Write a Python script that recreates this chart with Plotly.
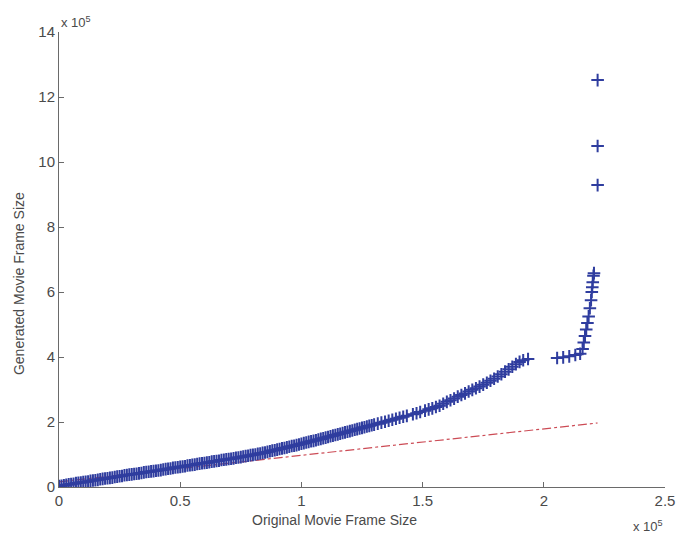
import plotly.graph_objects as go

# Quantile points (units of 1e5)
orig_size = [
    0.00, 0.01, 0.02, 0.03, 0.04, 0.05, 0.06, 0.07, 0.08, 0.09,
    0.10, 0.11, 0.12, 0.13, 0.14, 0.15, 0.16, 0.17, 0.18, 0.19,
    0.20, 0.21, 0.22, 0.23, 0.24, 0.25, 0.26, 0.27, 0.28, 0.29,
    0.30, 0.31, 0.32, 0.33, 0.34, 0.35, 0.36, 0.37, 0.38, 0.39,
    0.40, 0.41, 0.42, 0.43, 0.44, 0.45, 0.46, 0.47, 0.48, 0.49,
    0.50, 0.51, 0.52, 0.53, 0.54, 0.55, 0.56, 0.57, 0.58, 0.59,
    0.60, 0.61, 0.62, 0.63, 0.64, 0.65, 0.66, 0.67, 0.68, 0.69,
    0.70, 0.71, 0.72, 0.73, 0.74, 0.75, 0.76, 0.77, 0.78, 0.79,
    0.80, 0.81, 0.82, 0.83, 0.84, 0.85, 0.86, 0.87, 0.88, 0.89,
    0.90, 0.91, 0.92, 0.93, 0.94, 0.95, 0.96, 0.97, 0.98, 0.99,
    1.00, 1.01, 1.02, 1.03, 1.04, 1.05, 1.06, 1.07, 1.08, 1.09,
    1.10, 1.11, 1.12, 1.13, 1.14, 1.15, 1.16, 1.17, 1.18, 1.19,
    1.20, 1.21, 1.22, 1.23, 1.24, 1.25, 1.26, 1.27, 1.28, 1.29,
    1.30,
    1.315, 1.33, 1.345, 1.36, 1.375, 1.39, 1.405, 1.42, 1.435,
    1.46, 1.475, 1.49,
    1.51, 1.525, 1.54, 1.555, 1.57, 1.585, 1.60, 1.615, 1.63, 1.645,
    1.66, 1.675, 1.69, 1.705, 1.72, 1.735, 1.75, 1.765, 1.78, 1.795,
    1.81, 1.825, 1.84, 1.855, 1.87, 1.885, 1.90, 1.915, 1.935,
    2.055, 2.08, 2.105, 2.13, 2.15,
    2.16, 2.165, 2.17, 2.175, 2.18, 2.185, 2.19, 2.195, 2.198,
    2.20, 2.202, 2.205, 2.207,
    2.222, 2.222, 2.222,
]
gen_size = [
    0.03, 0.04, 0.05, 0.07, 0.08, 0.09, 0.10, 0.12, 0.13, 0.14,
    0.15, 0.16, 0.17, 0.19, 0.20, 0.21, 0.22, 0.24, 0.25, 0.26,
    0.27, 0.28, 0.29, 0.31, 0.32, 0.33, 0.34, 0.36, 0.37, 0.38,
    0.39, 0.40, 0.41, 0.42, 0.43, 0.45, 0.46, 0.47, 0.48, 0.49,
    0.50, 0.51, 0.52, 0.54, 0.55, 0.56, 0.57, 0.59, 0.60, 0.61,
    0.62, 0.63, 0.64, 0.66, 0.67, 0.68, 0.69, 0.71, 0.72, 0.73,
    0.74, 0.75, 0.76, 0.78, 0.79, 0.80, 0.81, 0.83, 0.84, 0.85,
    0.86, 0.87, 0.88, 0.90, 0.91, 0.92, 0.94, 0.95, 0.96, 0.98,
    0.99, 1.00, 1.02, 1.03, 1.05, 1.06, 1.08, 1.10, 1.12, 1.13,
    1.15, 1.17, 1.19, 1.20, 1.22, 1.24, 1.26, 1.27, 1.29, 1.31,
    1.33, 1.35, 1.37, 1.39, 1.41, 1.42, 1.44, 1.46, 1.48, 1.50,
    1.52, 1.54, 1.56, 1.58, 1.60, 1.62, 1.64, 1.66, 1.68, 1.70,
    1.72, 1.74, 1.76, 1.78, 1.80, 1.82, 1.84, 1.86, 1.88, 1.90,
    1.92,
    1.95, 1.98, 2.01, 2.04, 2.07, 2.10, 2.13, 2.16, 2.19,
    2.24, 2.27, 2.31,
    2.35, 2.39, 2.42, 2.46, 2.50, 2.56, 2.62, 2.67, 2.72, 2.78,
    2.83, 2.88, 2.94, 2.99, 3.04, 3.09, 3.15, 3.21, 3.27, 3.33,
    3.40, 3.47, 3.55, 3.62, 3.70, 3.78, 3.85, 3.90, 3.94,
    3.97, 3.99, 4.02, 4.06, 4.10,
    4.25, 4.45, 4.65, 4.85, 5.05, 5.25, 5.50, 5.75, 6.00,
    6.15, 6.30, 6.50, 6.58,
    9.29, 10.49, 12.52,
]

# Reference line endpoints (units of 1e5)
ref_x = [0.0, 2.222]
ref_y = [0.16, 1.97]

x_ticks = [0, 0.5, 1, 1.5, 2, 2.5]
x_tick_labels = ["0", "0.5", "1", "1.5", "2", "2.5"]
y_ticks = [0, 2, 4, 6, 8, 10, 12, 14]
y_tick_labels = ["0", "2", "4", "6", "8", "10", "12", "14"]

FONT = "Liberation Sans, Arial, sans-serif"
TXT = "#4a4a4a"
AX = "#6a6a6a"

fig = go.Figure()
fig.add_trace(go.Scatter(
    x=ref_x, y=ref_y, mode="lines",
    line=dict(color="#cc4b55", width=1.2, dash="dashdot"),
    showlegend=False, hoverinfo="skip",
))
fig.add_trace(go.Scatter(
    x=orig_size, y=gen_size, mode="markers",
    marker=dict(symbol="cross-thin", size=9,
                line=dict(color="#2f3d9f", width=2)),
    showlegend=False,
))

# page body has an 8px default margin, so the figure is 8px smaller
fig.update_layout(
    width=679, height=529,
    margin=dict(l=51, r=22, t=24, b=50),
    paper_bgcolor="white", plot_bgcolor="white",
    font=dict(family=FONT, color=TXT, size=14),
    xaxis=dict(range=[0, 2.5], tickvals=x_ticks, ticktext=x_tick_labels,
               ticks="inside", ticklen=5, tickcolor=AX, tickwidth=1,
               showline=True, linecolor=AX, linewidth=1, mirror=False,
               showgrid=False, zeroline=False,
               tickfont=dict(size=15, color=TXT, family=FONT)),
    yaxis=dict(range=[0, 14], tickvals=y_ticks, ticktext=y_tick_labels,
               ticks="inside", ticklen=5, tickcolor=AX, tickwidth=1,
               showline=True, linecolor=AX, linewidth=1, mirror=False,
               showgrid=False, zeroline=False,
               tickfont=dict(size=15, color=TXT, family=FONT)),
    annotations=[
        dict(text="Original Movie Frame Size", xref="paper", yref="paper",
             x=0.454, y=-0.0725, xanchor="center", yanchor="middle",
             showarrow=False, font=dict(size=14, color=TXT, family=FONT)),
        dict(text="Generated Movie Frame Size", xref="paper", yref="paper",
             x=-0.066, y=0.446, xanchor="center", yanchor="middle",
             textangle=-90, showarrow=False,
             font=dict(size=14, color=TXT, family=FONT)),
        dict(text="x 10<sup>5</sup>", xref="paper", yref="paper",
             x=0.0, y=1.022, xanchor="left", yanchor="middle",
             showarrow=False, font=dict(size=13, color=TXT, family=FONT)),
        dict(text="x 10<sup>5</sup>", xref="paper", yref="paper",
             x=1.0, y=-0.086, xanchor="right", yanchor="middle",
             showarrow=False, font=dict(size=13, color=TXT, family=FONT)),
    ],
)

fig.write_html("out.html")
